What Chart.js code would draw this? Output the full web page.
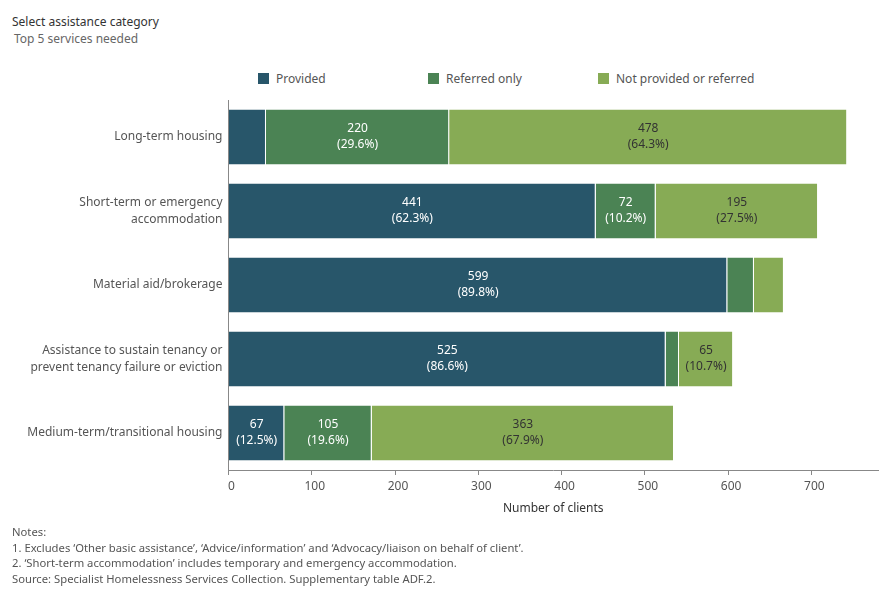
<!DOCTYPE html>
<html lang="en">
<head>
  <meta charset="UTF-8">
  <title>Top 5 services needed</title>
  <script src="https://cdn.jsdelivr.net/npm/chart.js"></script>
  <style>
    body { margin: 0; width: 890px; height: 600px; position: relative; font-family: "Noto Sans", sans-serif; background: #fff; overflow: hidden; }
    .titulo { position: absolute; left: 12px; top: 13px; font-size: 12px; color: #333; }
    .subtitulo { position: absolute; left: 14px; top: 30px; font-size: 12px; color: #666; }
    .legenda { position: absolute; top: 70px; font-size: 12px; color: #555; }
    .legenda span.cor { display: inline-block; width: 11px; height: 11px; vertical-align: -1px; margin-right: 7px; }
    .notas { position: absolute; left: 12px; top: 524px; font-size: 11.25px; color: #555; line-height: 15.5px; }
    .grafico { position: absolute; left: 0; top: 0; width: 890px; height: 600px; }
  </style>
</head>
<body>
  <div class="titulo">Select assistance category</div>
  <div class="subtitulo">Top 5 services needed</div>

  <div class="legenda" style="left:258px"><span class="cor" style="background:#28566a"></span>Provided</div>
  <div class="legenda" style="left:428px"><span class="cor" style="background:#4b8354"></span>Referred only</div>
  <div class="legenda" style="left:598px"><span class="cor" style="background:#87ab55"></span>Not provided or referred</div>

  <div class="grafico"><canvas id="myChart"></canvas></div>

  <div class="notas">
    Notes:<br>
    1. Excludes ‘Other basic assistance’, ‘Advice/information’ and ‘Advocacy/liaison on behalf of client’.<br>
    2. ‘Short-term accommodation’ includes temporary and emergency accommodation.<br>
    Source: Specialist Homelessness Services Collection. Supplementary table ADF.2.
  </div>

  <script>
    const categorias = [
      'Long-term housing',
      ['Short-term or emergency', 'accommodation'],
      'Material aid/brokerage',
      ['Assistance to sustain tenancy or', 'prevent tenancy failure or eviction'],
      'Medium-term/transitional housing'
    ];
    const provided = [45, 441, 599, 525, 67];
    const referredOnly = [220, 72, 32, 16, 105];
    const notProvided = [478, 195, 36, 65, 363];
    const ticksX = [0, 100, 200, 300, 400, 500, 600, 700];

    const totais = provided.map((v, i) => v + referredOnly[i] + notProvided[i]);

    // rótulos dentro das barras (valor + percentual)
    const rotulos = {
      id: 'rotulos',
      afterDatasetsDraw(chart) {
        const ctx = chart.ctx;
        ctx.save();
        ctx.font = '12px "Noto Sans", sans-serif';
        ctx.textAlign = 'center';
        ctx.textBaseline = 'middle';
        chart.data.datasets.forEach((ds, d) => {
          chart.getDatasetMeta(d).data.forEach((bar, i) => {
            const largura = Math.abs(bar.x - bar.base);
            if (largura < 45) return;
            const valor = ds.data[i];
            const pct = (valor / totais[i] * 100).toFixed(1);
            const cx = (bar.x + bar.base) / 2;
            ctx.fillStyle = d === 2 ? '#333' : '#fff';
            ctx.fillText(valor, cx, bar.y - 8);
            ctx.fillText('(' + pct + '%)', cx, bar.y + 8);
          });
        });
        ctx.restore();
      }
    };

    const borda = { top: 0, right: 1, bottom: 0, left: 0 };

    new Chart(document.getElementById('myChart'), {
      type: 'bar',
      data: {
        labels: categorias,
        datasets: [
          { label: 'Provided', data: provided, backgroundColor: '#28566a', borderColor: '#fff', borderWidth: borda, borderSkipped: false },
          { label: 'Referred only', data: referredOnly, backgroundColor: '#4b8354', borderColor: '#fff', borderWidth: borda, borderSkipped: false },
          { label: 'Not provided or referred', data: notProvided, backgroundColor: '#87ab55', borderColor: '#fff', borderWidth: borda, borderSkipped: false }
        ]
      },
      options: {
        indexAxis: 'y',
        responsive: true,
        maintainAspectRatio: false,
        animation: false,
        barPercentage: 0.743,
        categoryPercentage: 1,
        layout: { padding: { top: 100, right: 12, bottom: 80, left: 0 } },
        plugins: {
          legend: { display: false },
          tooltip: { enabled: false }
        },
        scales: {
          x: {
            stacked: true,
            min: 0,
            max: 780,
            afterBuildTicks: (scale) => { scale.ticks = ticksX.map(v => ({ value: v })); },
            afterFit: (scale) => { scale.height = 50; },
            grid: { drawOnChartArea: false, drawTicks: true, tickLength: 5, color: '#888' },
            border: { display: true, color: '#888' },
            ticks: { color: '#555', font: { family: 'Noto Sans', size: 12 }, padding: 4, labelOffset: 3, maxRotation: 0 },
            title: { display: true, text: 'Number of clients', color: '#333', font: { family: 'Noto Sans', size: 12 } }
          },
          y: {
            stacked: true,
            afterFit: (scale) => { scale.width = 228.5; },
            grid: { display: false, drawTicks: false },
            border: { display: true, color: '#888' },
            ticks: { color: '#555', font: { family: 'Noto Sans', size: 12, lineHeight: 1.4 }, padding: 6 }
          }
        }
      },
      plugins: [rotulos]
    });
  </script>
</body>
</html>
